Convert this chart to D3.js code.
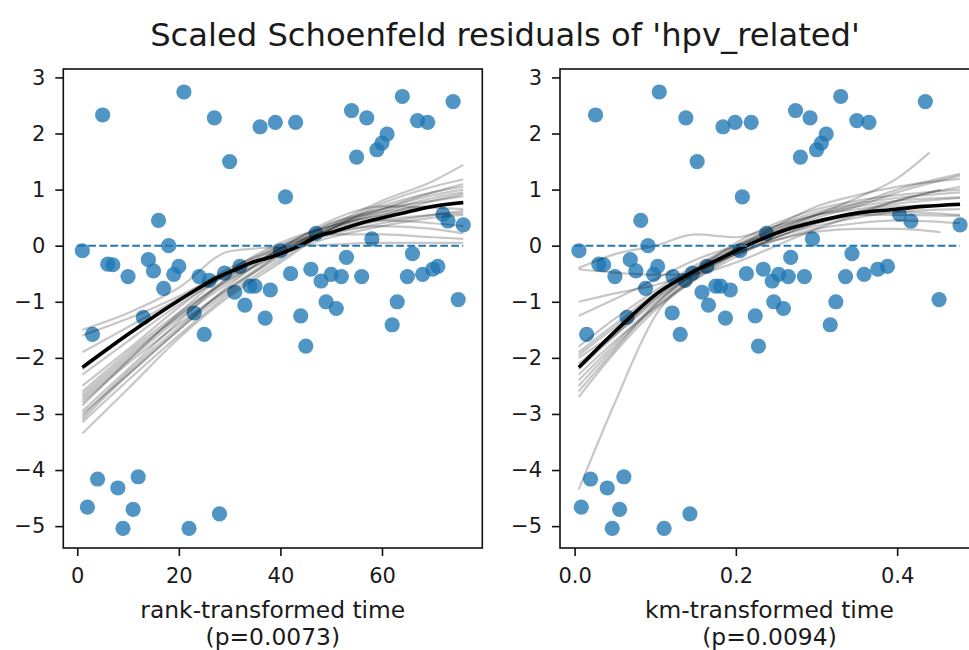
<!DOCTYPE html>
<html>
<head>
<meta charset="utf-8">
<script src="https://cdn.jsdelivr.net/npm/d3@7"></script>
<style>
  body { margin: 0; background: #fff; }
  text { font-family: "DejaVu Sans", sans-serif; fill: #1a1a1a; }
</style>
</head>
<body>
<script>
// rank of each event time, 1..76
var rankTime = [1,2,3,4,5,6,7,8,9,10,11,12,13,14,15,16,17,18,19,20,
                21,22,23,24,25,26,27,28,29,30,31,32,33,34,35,36,37,38,39,40,
                41,42,43,44,45,46,47,48,49,50,51,52,53,54,55,56,57,58,59,60,
                61,62,63,64,65,66,67,68,69,70,71,72,73,74,75,76];

// km-transformed time for the same events
var kmTime = [0.0054,0.0083,0.0149,0.0198,0.026,0.030,0.036,0.0405,0.0467,0.050,
              0.0558,0.0611,0.065,0.069,0.076,0.082,0.088,0.091,0.098,0.103,
              0.105,0.111,0.121,0.122,0.131,0.137,0.138,0.143,0.146,0.152,
              0.158,0.164,0.166,0.175,0.181,0.184,0.187,0.193,0.199,0.205,
              0.208,0.213,0.219,0.224,0.228,0.234,0.238,0.245,0.247,0.253,
              0.259,0.265,0.268,0.274,0.280,0.285,0.292,0.295,0.300,0.306,
              0.312,0.317,0.324,0.330,0.336,0.344,0.350,0.359,0.365,0.376,
              0.388,0.403,0.417,0.435,0.452,0.478];

// scaled schoenfeld residuals
var residuals = [-0.09,-4.66,-1.58,-4.16,2.33,-0.33,-0.34,-4.32,-5.04,-0.55,
                 -4.70,-4.12,-1.28,-0.25,-0.45,0.45,-0.76,0.00,-0.51,-0.37,
                 2.74,-5.04,-1.20,-0.55,-1.58,-0.62,2.28,-4.78,-0.49,1.50,
                 -0.83,-0.37,-1.06,-0.72,-0.72,2.12,-1.29,-0.79,2.20,-0.09,
                 0.87,-0.50,2.20,-1.25,-1.79,-0.42,0.22,-0.63,-1.00,-0.51,
                 -1.12,-0.55,-0.21,2.41,1.58,-0.55,2.28,0.12,1.71,1.83,
                 1.99,-1.41,-1.00,2.66,-0.55,-0.14,2.23,-0.51,2.20,-0.42,
                 -0.37,0.56,0.44,2.57,-0.96,0.37];

// lowess fit (black)
var rankFitX = [1,10,17,23.5,27.5,31,34,37.5,41,44,47,50.5,57,64,70,76];
var rankFitY = [-2.17,-1.58,-1.15,-0.78,-0.57,-0.43,-0.31,-0.22,-0.11,0.01,0.15,0.25,0.43,0.58,0.70,0.77];
var kmFitX = [0.0054,0.061,0.1025,0.144,0.185,0.226,0.268,0.309,0.35,0.392,0.433,0.478];
var kmFitY = [-2.17,-1.38,-0.85,-0.49,-0.20,0.08,0.31,0.46,0.58,0.64,0.70,0.74];

// bootstrap lowess curves (grey), read on a coarse grid
var rankGrid = [1,10,20,30,40,50,60,70,76];
var rankBoot = [
  [-1.50,-1.20,-0.75,-0.10,-0.02,0.02,0.05,0.05,0.05],
  [-1.60,-1.30,-0.90,-0.45,-0.15,0.15,0.35,0.50,0.55],
  [-2.60,-1.90,-1.20,-0.60,-0.15,0.30,0.65,0.95,1.10],
  [-2.80,-2.10,-1.40,-0.75,-0.20,0.35,0.80,1.15,1.44],
  [-3.35,-2.55,-1.65,-0.90,-0.30,0.30,0.70,0.95,1.05],
  [-3.10,-2.30,-1.50,-0.80,-0.15,0.40,0.65,0.80,0.88],
  [-2.95,-2.20,-1.35,-0.55,0.00,0.35,0.55,0.70,0.75],
  [-2.70,-2.00,-1.25,-0.60,-0.05,0.45,0.70,0.68,0.65],
  [-2.50,-1.85,-1.10,-0.45,0.00,0.25,0.35,0.30,0.22],
  [-3.00,-2.30,-1.50,-0.70,-0.05,0.20,0.20,0.15,0.12],
  [-2.30,-1.70,-1.05,-0.50,-0.10,0.30,0.60,0.85,0.95],
  [-2.85,-2.05,-1.20,-0.45,0.05,0.35,0.55,0.80,0.92],
  [-3.15,-2.40,-1.60,-0.85,-0.25,0.30,0.75,1.05,1.18],
  [-2.65,-1.95,-1.25,-0.55,-0.05,0.40,0.60,0.72,0.78],
  [-2.20,-1.60,-0.95,-0.40,-0.05,0.25,0.45,0.55,0.58],
  [-1.90,-1.45,-0.95,-0.50,-0.10,0.20,0.40,0.55,0.62],
  [-3.05,-2.25,-1.45,-0.75,-0.15,0.30,0.45,0.40,0.35],
  [-2.75,-2.05,-1.30,-0.65,-0.10,0.35,0.65,0.90,1.00]
];
var kmGrid = [0.005,0.05,0.10,0.15,0.20,0.25,0.30,0.35,0.40,0.478];
var kmBootEnd = [0.454,0.478,0.478,0.478,0.478,0.478,0.478,0.478,0.44,0.454,0.478,0.478,0.478,0.478,0.478,0.478];
var kmBoot = [
  [-4.35,-2.80,-1.25,-0.55,-0.15,0.15,0.40,0.60,0.80,1.00],
  [-0.42,-0.48,-0.52,-0.50,-0.30,0.00,0.30,0.55,0.80,1.05],
  [-1.00,-0.85,-0.70,-0.45,-0.15,0.15,0.35,0.50,0.60,0.65],
  [-1.25,-0.95,-0.60,-0.25,0.00,0.25,0.50,0.70,0.95,1.25],
  [-0.40,-0.15,0.00,0.20,0.15,0.35,0.55,0.65,0.75,0.85],
  [-1.80,-1.30,-0.80,-0.35,0.00,0.30,0.55,0.75,1.00,1.28],
  [-2.00,-1.55,-0.95,-0.50,-0.10,0.20,0.45,0.60,0.70,0.72],
  [-2.30,-1.70,-1.10,-0.60,-0.20,0.15,0.40,0.55,0.60,0.55],
  [-2.50,-1.80,-1.10,-0.55,-0.10,0.25,0.55,0.85,1.20,1.66],
  [-2.70,-1.90,-1.15,-0.60,-0.15,0.10,0.25,0.30,0.30,0.24],
  [-2.20,-1.60,-0.95,-0.45,-0.05,0.30,0.55,0.70,0.80,0.86],
  [-1.95,-1.45,-0.90,-0.40,0.00,0.35,0.60,0.75,0.85,0.95],
  [-2.40,-1.75,-1.05,-0.50,-0.05,0.35,0.70,0.90,1.05,1.19],
  [-2.10,-1.60,-1.00,-0.50,-0.15,0.10,0.30,0.40,0.45,0.40],
  [-2.60,-1.85,-1.05,-0.45,0.05,0.40,0.65,0.80,0.90,1.00],
  [-1.90,-1.40,-0.85,-0.40,-0.05,0.25,0.45,0.55,0.55,0.53]
];

var yTicks = [-5,-4,-3,-2,-1,0,1,2,3];
var rankTicks = [0,20,40,60];
var kmTicks = [0.0,0.2,0.4];

var width = 969, height = 650;
var plotTop = 69, plotBottom = 548;

var svg = d3.select("body").append("svg")
    .attr("width", width)
    .attr("height", height);

var y = d3.scaleLinear().domain([-5.39, 3.15]).range([plotBottom, plotTop]);

svg.append("text")
    .attr("x", 505)
    .attr("y", 46)
    .attr("text-anchor", "middle")
    .style("font-size", "32.2px")
    .text("Scaled Schoenfeld residuals of 'hpv_related'");

function panel(id, xs, xDomain, xRange, ticks, fmt, fitX, fitY, grid, boot, bootEnd, label, pLabel) {
  var x = d3.scaleLinear().domain(xDomain).range(xRange);
  var g = svg.append("g");

  svg.append("clipPath").attr("id", id)
    .append("rect")
      .attr("x", xRange[0]).attr("y", plotTop)
      .attr("width", xRange[1] - xRange[0]).attr("height", plotBottom - plotTop);

  var plot = g.append("g").attr("clip-path", "url(#" + id + ")");

  plot.selectAll("circle")
    .data(xs)
    .enter().append("circle")
      .attr("cx", function (d) { return x(d); })
      .attr("cy", function (d, i) { return y(residuals[i]); })
      .attr("r", 7.6)
      .attr("fill", "#1f77b4")
      .attr("fill-opacity", 0.78);

  var line = d3.line()
      .x(function (d) { return x(d[0]); })
      .y(function (d) { return y(d[1]); })
      .curve(d3.curveMonotoneX);

  boot.forEach(function (ys, k) {
    var pts = ys.map(function (v, i) {
      var gx = grid[i];
      if (bootEnd && i == ys.length - 1) gx = bootEnd[k];
      return [gx, v];
    });
    plot.append("path")
      .attr("d", line(pts))
      .attr("fill", "none")
      .attr("stroke", "#000")
      .attr("stroke-opacity", 0.22)
      .attr("stroke-width", 2.2);
  });

  plot.append("path")
    .attr("d", line(fitX.map(function (v, i) { return [v, fitY[i]]; })))
    .attr("fill", "none")
    .attr("stroke", "#000")
    .attr("stroke-width", 3.6);

  plot.append("line")
    .attr("x1", x(0)).attr("x2", x(d3.max(xs)))
    .attr("y1", y(0)).attr("y2", y(0))
    .attr("stroke", "#1f77b4")
    .attr("stroke-width", 2)
    .attr("stroke-dasharray", "7.7,3.3");

  // frame
  g.append("rect")
    .attr("x", xRange[0]).attr("y", plotTop)
    .attr("width", xRange[1] - xRange[0]).attr("height", plotBottom - plotTop)
    .attr("fill", "none")
    .attr("stroke", "#111")
    .attr("stroke-width", 1.6);

  var ax = g.append("g")
    .attr("transform", "translate(0," + plotBottom + ")")
    .call(d3.axisBottom(x).tickValues(ticks).tickFormat(d3.format(fmt)).tickSize(8).tickPadding(12));
  var ay = g.append("g")
    .attr("transform", "translate(" + xRange[0] + ",0)")
    .call(d3.axisLeft(y).tickValues(yTicks).tickFormat(d3.format("d")).tickSize(8).tickPadding(10));

  [ax, ay].forEach(function (a) {
    a.select(".domain").remove();
    a.selectAll(".tick line").attr("stroke", "#111").attr("stroke-width", 1.6);
    a.selectAll(".tick text").style("font-size", "21px").attr("fill", "#1a1a1a")
      .style("font-family", "DejaVu Sans");
  });

  var cx = (xRange[0] + xRange[1]) / 2;
  g.append("text")
    .attr("x", cx).attr("y", 618)
    .attr("text-anchor", "middle")
    .style("font-size", "23.4px")
    .text(label);
  g.append("text")
    .attr("x", cx).attr("y", 645)
    .attr("text-anchor", "middle")
    .style("font-size", "23.4px")
    .text(pLabel);
}

panel("clipL", rankTime, [-2.75, 79.75], [63.3, 482.3], rankTicks, "d",
      rankFitX, rankFitY, rankGrid, rankBoot, null,
      "rank-transformed time", "(p=0.0073)");

panel("clipR", kmTime, [-0.0181, 0.5015], [560, 979], kmTicks, ".1f",
      kmFitX, kmFitY, kmGrid, kmBoot, kmBootEnd,
      "km-transformed time", "(p=0.0094)");
</script>
</body>
</html>
